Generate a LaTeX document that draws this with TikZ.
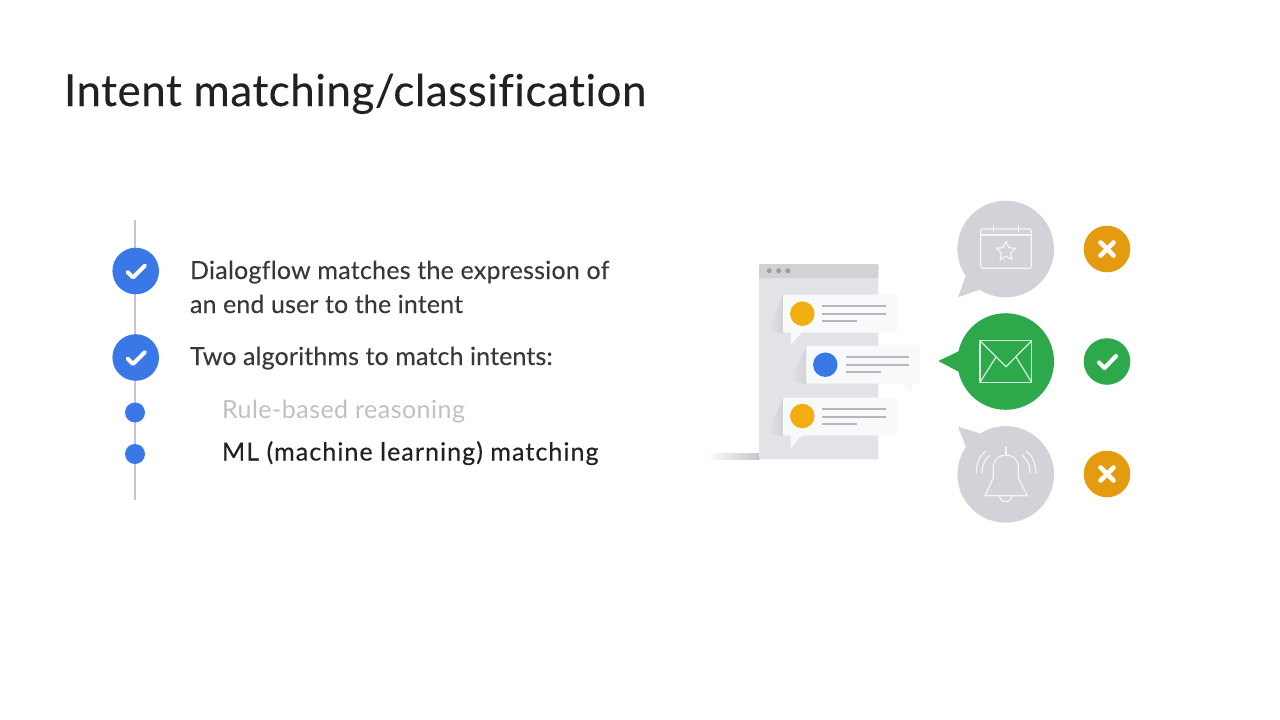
\documentclass[tikz,border=0pt]{standalone}
\usepackage{fontspec}
\setmainfont{Lato}[Ligatures=TeX]
\newfontfamily\titlefont{Lato}[LetterSpace=1.2,FakeBold=0.2,Ligatures=NoCommon]
\newfontfamily\bodyfont{Lato}[LetterSpace=1.0,FakeBold=0.12,Ligatures=NoCommon]
\newfontfamily\tightfont{Lato}[LetterSpace=0.55,FakeBold=0.12,Ligatures=NoCommon]
\newfontfamily\rulefont{Lato}[LetterSpace=1.9,Ligatures=NoCommon]
\newfontfamily\mlfont{Lato}[LetterSpace=4.3,FakeBold=0.35,Ligatures=NoCommon]
\usetikzlibrary{shapes.geometric}
\definecolor{ink}{HTML}{36393C}
\definecolor{inkdark}{HTML}{202124}
\definecolor{inklight}{HTML}{BDC1C6}
\definecolor{gblue}{HTML}{3B78E7}
\definecolor{gyellow}{HTML}{F2AE0F}
\definecolor{gorange}{HTML}{E49B0F}
\definecolor{ggreen}{HTML}{2DA94C}
\definecolor{bubble}{HTML}{D2D3D9}
\definecolor{win}{HTML}{E2E3E7}
\definecolor{winhead}{HTML}{D0D2D6}
\definecolor{card}{HTML}{F8F9FB}
\definecolor{cardline}{HTML}{B6B8BE}
\definecolor{rail}{HTML}{C4C7CC}
\tikzset{
  x=1pt,y=-1pt,
  txt/.style={anchor=base west,inner sep=0pt,outer sep=0pt},
  body/.style={txt,text=ink,font=\bodyfont\fontsize{25}{30}\selectfont},
  tightbody/.style={body,font=\tightfont\fontsize{25}{30}\selectfont},
  dotbig/.style={circle,fill=gblue,minimum size=46.6pt,inner sep=0pt},
  dotsmall/.style={circle,fill=gblue,minimum size=20pt,inner sep=0pt},
  badgex/.style={circle,fill=gorange,minimum size=46.6pt,inner sep=0pt},
  badgeok/.style={circle,fill=ggreen,minimum size=46.6pt,inner sep=0pt},
  tick/.style={draw=white,line width=3.9pt,line cap=round,line join=round},
  icon/.style={draw=white!78!bubble,line width=1.2pt,line join=round,line cap=round},
  mailicon/.style={icon,draw=white!80!ggreen},
  bar/.style={draw=cardline,line width=2.3pt},
  cardavatar/.style={circle,minimum size=24.5pt,inner sep=0pt},
}
\newcommand{\cardshape}[2]{% x, y of card's top-left corner
  \fill[card,rounded corners=1pt] (#1,#2) rectangle ++(113.7,38);
}
\newcommand{\cardbars}[2]{%
  \draw[bar] (#1+39.3,#2+11.6) -- ++(63.7,0);
  \draw[bar] (#1+39.3,#2+19) -- ++(63.7,0);
  \draw[bar] (#1+39.3,#2+26.2) -- ++(35,0);
}
\begin{document}
\begin{tikzpicture}
\useasboundingbox (0,0) rectangle (1280,720);
\fill[white] (0,0) rectangle (1280,720);

% title
\node[txt,text=inkdark,font=\titlefont\fontsize{44}{50}\selectfont] (title) at (64,106) {Intent matching/classification};

% timeline
\coordinate (railtop) at (135,220);
\coordinate (railbot) at (135,500);
\draw[rail,line width=1.5pt] (railtop) -- (railbot);
\node[dotbig] (d1) at (135.7,271) {};
\node[dotbig] (d2) at (135.7,357.5) {};
\node[dotsmall] (d3) at (135,412.5) {};
\node[dotsmall] (d4) at (135,454) {};
\draw[tick] (127.5,272) -- (133,277.5) -- (145,265.5);
\draw[tick] (127.5,358.5) -- (133,364) -- (145,352);

\node[body] (t1) at (190,279) {Dialogflow matches the expression of};
\node[tightbody] (t2) at (190,313) {an end user to the intent};
\node[tightbody] (t3) at (190,365) {Two algorithms to match intents:};
\node[body,text=inklight,font=\rulefont\fontsize{25}{30}\selectfont] (t4) at (222,418) {Rule-based reasoning};
\node[body,text=inkdark,font=\mlfont\fontsize{25}{30}\selectfont] (t5) at (222,460.5) {ML (machine learning) matching};

% browser window
\shade[left color=white,right color=winhead!85!gray] (706,453.3) rectangle (759.5,459.3);
\fill[win,rounded corners=1.5pt] (759,264) rectangle (878.3,459.3);
\fill[winhead,rounded corners=1.5pt] (759,264) -- (878.3,264) -- (878.3,278) -- (759,278) -- cycle;
\fill[gray!70!win] (769.3,270.7) circle (2.5) (778.7,270.7) circle (2.5) (787.7,270.7) circle (2.5);

% card shadows
\shade[left color=win,right color=winhead] (768,330) -- (783,295) -- (783,333) -- cycle;
\shade[left color=win,right color=winhead] (791,381) -- (806.3,346) -- (806.3,384) -- cycle;
\shade[left color=win,right color=winhead] (768,433) -- (783,398) -- (783,436) -- cycle;

% cards
\cardshape{783}{294.7}
\fill[card] (790.7,332) -- (790.7,345) -- (802,332) -- cycle;
\node[cardavatar,fill=gyellow] (a1) at (802.3,313.7) {};
\cardbars{783}{294.7}
\cardshape{806.3}{345.7}
\fill[card] (900,383) -- (912,395.7) -- (912,383) -- cycle;
\node[cardavatar,fill=gblue] (a2) at (825.3,364.7) {};
\cardbars{806.3}{345.7}
\cardshape{783}{397.7}
\fill[card] (790.7,435) -- (790.7,448) -- (802,435) -- cycle;
\node[cardavatar,fill=gyellow] (a3) at (802.3,416) {};
\cardbars{783}{397.7}

% calendar bubble
\fill[bubble] (1005.7,249) circle (48.3);
\fill[bubble] (965.7,276) -- (958,297.3) -- (979,290) -- cycle;
\draw[icon,rounded corners=1.5pt] (980.7,229) rectangle (1031.3,268.3);
\draw[icon] (980.7,235) -- (1031.3,235);
\draw[icon] (993.3,226) -- (993.3,232.3) (1018.3,226) -- (1018.3,232.3);
\draw[icon] (1006,241.3) -- (1009,247.6) -- (1015.6,248.3) -- (1010.7,252.8) -- (1012,259.6) -- (1006,256.2) -- (1000,259.6) -- (1001.3,252.8) -- (996.4,248.3) -- (1003,247.6) -- cycle;

% mail bubble
\fill[ggreen] (1005.7,361.5) circle (48.3);
\fill[ggreen] (959.3,351) -- (938.3,361) -- (959.3,372) -- cycle;
\draw[mailicon] (980,340.7) rectangle (1031.7,382.3);
\draw[mailicon] (980,340.7) -- (1006,366.7) -- (1031.7,340.7);
\draw[mailicon] (980,382.3) -- (996,357) (1031.7,382.3) -- (1016,357);

% bell bubble
\fill[bubble] (1005.7,474.4) circle (48.3);
\fill[bubble] (966,447.3) -- (958,426.7) -- (980,433.3) -- cycle;
\draw[icon] (985,495.7) -- (1027.3,495.7) -- (1018.3,478) -- (1018.3,467) .. controls (1018.3,459) and (1012,455) .. (1006,455) .. controls (1000,455) and (993.3,459) .. (993.3,467) -- (993.3,478) -- cycle;
\draw[icon] (1006,447) -- (1006,455);
\draw[icon] (999.5,495.7) .. controls (999.5,503.5) and (1012,503.5) .. (1012,495.7);
\draw[icon] (976.3,473) .. controls (976.3,464) and (979,456) .. (985.5,451.5);
\draw[icon] (982,473) .. controls (982,466) and (984,460) .. (989.5,455.5);
\draw[icon] (1035.7,473) .. controls (1035.7,464) and (1033,456) .. (1026.5,451.5);
\draw[icon] (1030,473) .. controls (1030,466) and (1028,460) .. (1022.5,455.5);

% badges
\node[badgex] (b1) at (1107,249) {};
\node[badgeok] (b2) at (1107,361.5) {};
\node[badgex] (b3) at (1107,474) {};
\draw[tick,line width=4.6pt] (1100.5,242.5) -- (1113.5,255.5) (1113.5,242.5) -- (1100.5,255.5);
\draw[tick,line width=4.6pt] (1100.5,467.5) -- (1113.5,480.5) (1113.5,467.5) -- (1100.5,480.5);
\draw[tick,line width=4.2pt] (1099,362.5) -- (1104.5,368) -- (1116,356);
\end{tikzpicture}
\end{document}
